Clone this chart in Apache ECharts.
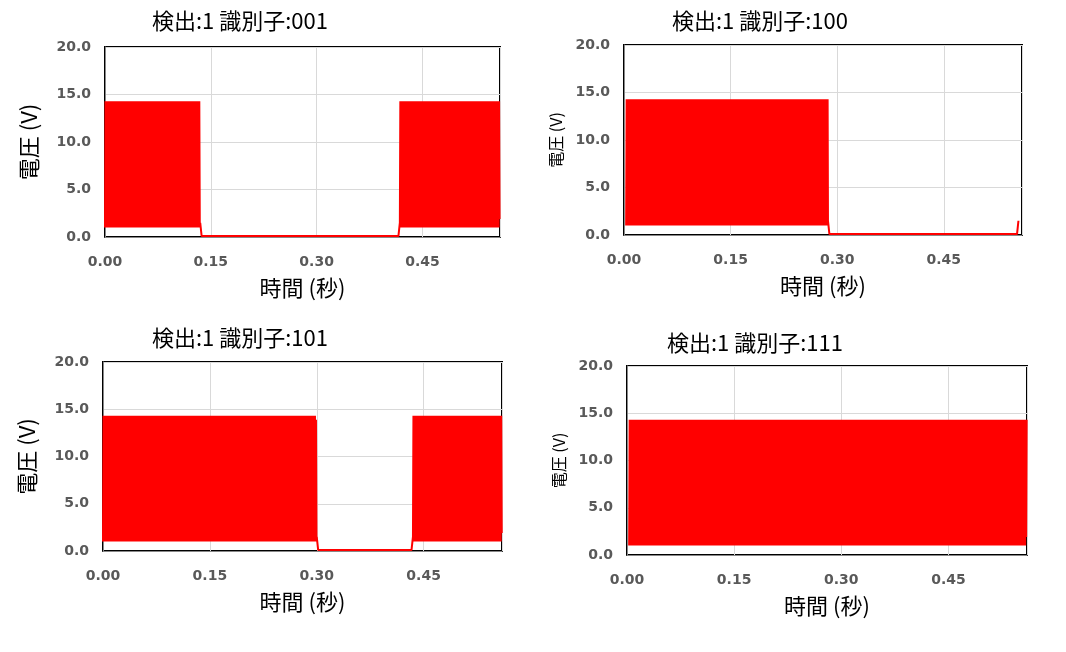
<!DOCTYPE html><html><head><meta charset="utf-8">
<script src="https://cdn.jsdelivr.net/npm/echarts@6/dist/echarts.min.js"></script>
<style>html,body{margin:0;background:#fff}#c{width:1066px;height:652px}</style></head><body><div id="c"></div><script>
const titles=["検出:1 識別子:001","検出:1 識別子:100","検出:1 識別子:101","検出:1 識別子:111"];
const xTicks=[0,0.15,0.30,0.45];
// bit segments: [start, end, high(1)/low(0)]
const seg001=[[0,0.135,1],[0.135,0.418,0],[0.418,0.56,1]];
const seg100=[[0.003,0.287,1],[0.287,0.555,0]];
const seg101=[[0,0.300,1],[0.300,0.435,0],[0.435,0.56,1]];
const seg111=[[0.003,0.56,1]];
const highMax=14.3, highMin=1.0, lowLevel=0.1, carrierPeriod=0.0014;
const bitLabels001=[[0.045,"″1“"],[0.158,"″"],[0.215,"0"],[0.345,"0"],[0.47,"1″"]];
const bitLabels100=[[0.045,"″1“"],[0.158,"″"],[0.21,"1"],[0.33,"0"],[0.47,"0″"]];
const bitLabels101=[[0.045,"″1“"],[0.158,"″"],[0.21,"1"],[0.345,"0"],[0.47,"1″"]];
const bitLabels111=[[0.045,"″1“"],[0.158,"″"],[0.21,"1"],[0.33,"1"],[0.47,"1″"]];
function build(segs){const d=[];segs.forEach(s=>{if(s[2]){let k=0;for(let t=s[0];t<s[1];t+=carrierPeriod/2,k++){d.push([t,(k%2)?highMax-(k%7===0?0.4:0):(k%4===0?highMin:highMin+0.9)]);}}else{d.push([s[0],1.5]);d.push([s[0]+0.002,lowLevel]);d.push([s[1]-0.002,lowLevel]);d.push([s[1],1.5]);}});return d;}
const sets=[[seg001,bitLabels001],[seg100,bitLabels100],[seg101,bitLabels101],[seg111,bitLabels111]];
const grids=[{left:105,top:47,width:395,height:190},{left:624,top:45,width:398,height:190},{left:103,top:362,width:399,height:189},{left:627,top:366,width:400,height:189}];
const bigName=[true,false,true,false];
const tickStyle={color:'#595959',fontWeight:'bold',fontSize:14,fontFamily:'DejaVu Sans'};
const opt={animation:false,title:[],grid:[],xAxis:[],yAxis:[],series:[]};
const titlePos=[[235,5],[755,5],[235,322],[750,327]];
grids.forEach((g,i)=>{
 opt.grid.push(Object.assign({show:true,borderColor:'#000',borderWidth:2},g));
 opt.title.push({text:titles[i],left:titlePos[i][0],top:titlePos[i][1],textAlign:'center',textStyle:{fontSize:22,fontWeight:'normal',color:'#000',fontFamily:'Noto Sans CJK JP'}});
 opt.xAxis.push({gridIndex:i,type:'value',min:0,max:0.56,interval:0.15,name:'時間 (秒)',nameLocation:'middle',nameGap:40,nameTextStyle:{fontSize:22,color:'#000',fontFamily:'Noto Sans CJK JP'},axisLine:{lineStyle:{color:'#888'}},axisTick:{show:false},splitLine:{lineStyle:{color:'#d9d9d9'}},axisLabel:Object.assign({formatter:v=>xTicks.some(t=>Math.abs(t-v)<1e-6)?v.toFixed(2):'',showMaxLabel:false,margin:18},tickStyle)});
 opt.yAxis.push({gridIndex:i,type:'value',min:0,max:20,interval:5,name:'電圧 (V)',nameLocation:'middle',nameGap:bigName[i]?65:60,nameTextStyle:{fontSize:bigName[i]?22:16,color:'#000',fontFamily:'Noto Sans CJK JP'},axisLine:{show:true,lineStyle:{color:'#888'}},axisTick:{show:false},splitLine:{lineStyle:{color:'#d9d9d9'}},axisLabel:Object.assign({formatter:v=>v.toFixed(1),margin:14},tickStyle)});
 opt.series.push({type:'line',xAxisIndex:i,yAxisIndex:i,data:build(sets[i][0]),symbol:'none',lineStyle:{color:'#ff0000',width:2},z:3,
  markPoint:{symbol:'none',data:sets[i][1].map(l=>({coord:[l[0],17.5],label:{show:true,formatter:l[1],fontSize:24,color:'#000',fontFamily:'DejaVu Sans'}}))}});
});
echarts.init(document.getElementById('c')).setOption(opt);
</script></body></html>
